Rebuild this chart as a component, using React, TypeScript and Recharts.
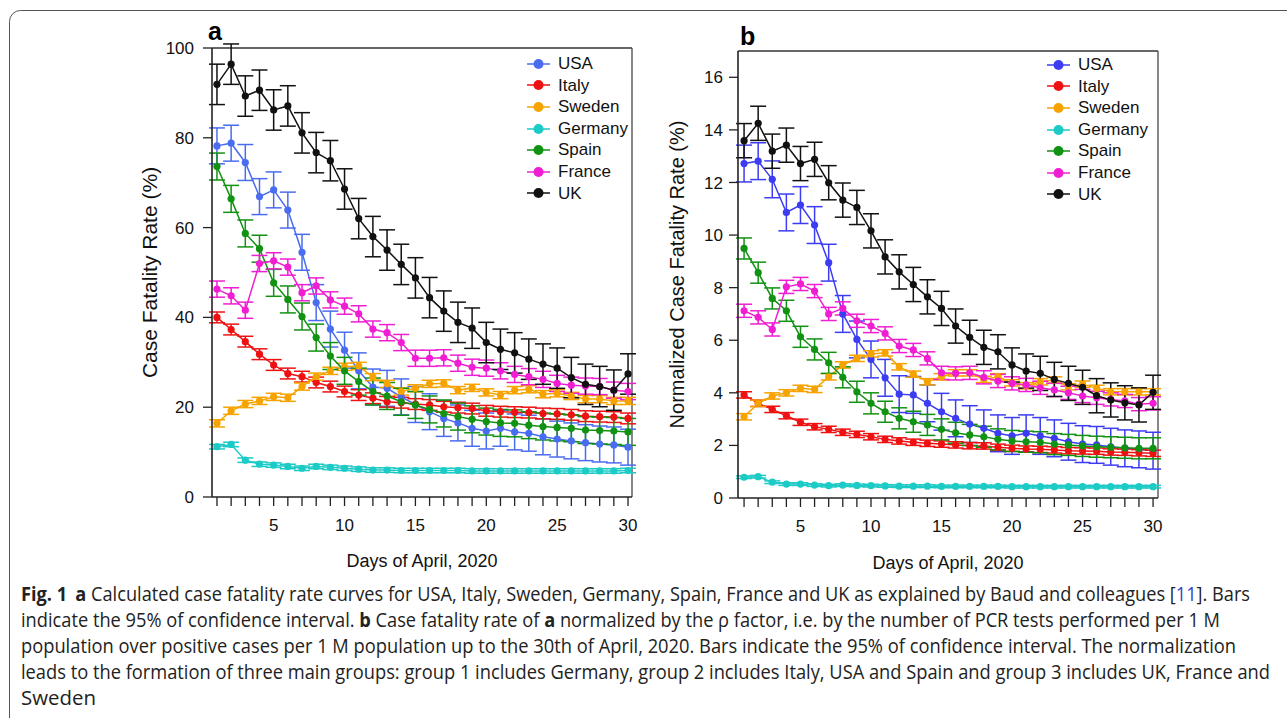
import React from "react";
import { LineChart, Line, XAxis, YAxis, ErrorBar, ReferenceLine } from "recharts";

const days = [1, 2, 3, 4, 5, 6, 7, 8, 9, 10, 11, 12, 13, 14, 15, 16, 17, 18, 19, 20, 21, 22, 23, 24, 25, 26, 27, 28, 29, 30];
const countries = ["USA", "Italy", "Sweden", "Germany", "Spain", "France", "UK"];
const colorsA = ["#4a6cf0", "#ee1111", "#f6a300", "#1ccac6", "#129212", "#f01ed2", "#111111"];
const colorsB = ["#3c3cf2", "#ee1111", "#f6a300", "#1ccac6", "#129212", "#f01ed2", "#111111"];

// panel a: case fatality rate (%)
const usaA = [78.2, 78.8, 74.5, 66.9, 68.4, 63.9, 54.5, 43.3, 37.4, 32.7, 28.1, 24.5, 24.2, 22.3, 20.6, 19.0, 17.5, 16.5, 15.3, 14.7, 15.3, 14.5, 14.2, 13.4, 12.9, 12.5, 12.1, 11.8, 11.6, 11.1];
const italyA = [40.0, 37.3, 34.6, 31.8, 29.4, 27.5, 26.8, 25.5, 24.6, 23.5, 22.7, 22.0, 21.2, 21.0, 20.7, 20.5, 20.1, 19.9, 19.7, 19.2, 19.0, 18.9, 18.8, 18.6, 18.5, 18.3, 18.0, 17.9, 17.8, 17.5];
const swedenA = [16.4, 19.2, 20.7, 21.4, 22.3, 22.1, 24.6, 26.8, 28.1, 29.0, 29.2, 26.7, 25.2, 23.5, 24.2, 25.2, 25.3, 23.8, 24.3, 23.3, 22.7, 23.8, 24.0, 22.9, 23.1, 22.5, 21.8, 21.8, 21.4, 21.4];
const germanyA = [11.2, 11.7, 8.2, 7.3, 7.1, 6.8, 6.4, 6.8, 6.6, 6.4, 6.2, 6.0, 6.0, 5.9, 5.9, 5.9, 5.9, 5.9, 5.8, 5.8, 5.8, 5.8, 5.8, 5.8, 5.8, 5.8, 5.8, 5.8, 5.8, 5.9];
const spainA = [73.6, 66.4, 58.7, 55.3, 47.7, 44.0, 40.2, 35.5, 31.4, 28.1, 25.7, 23.5, 22.5, 21.2, 20.5, 19.5, 18.6, 17.9, 17.3, 16.8, 16.5, 16.4, 16.0, 15.7, 15.5, 15.3, 14.9, 14.8, 14.7, 14.5];
const franceA = [46.3, 44.8, 41.6, 52.0, 52.6, 51.2, 45.5, 47.0, 43.9, 42.5, 40.8, 37.4, 36.6, 34.4, 30.9, 30.9, 31.0, 29.8, 28.9, 28.7, 28.1, 27.3, 26.8, 26.2, 25.3, 24.9, 24.7, 24.6, 23.8, 23.5];
const ukA = [91.9, 96.4, 89.3, 90.6, 86.2, 87.1, 81.1, 76.7, 74.9, 68.6, 62.0, 58.0, 55.0, 51.8, 48.8, 44.4, 41.4, 38.9, 37.6, 34.4, 32.9, 32.1, 30.7, 29.6, 28.7, 26.6, 25.1, 24.6, 23.8, 27.4];
const errA = [4, 1.2, 0.8, 0.5, 3, 1.8, 4.5];

// panel b: normalized case fatality rate (%)
const usaB = [12.72, 12.81, 12.12, 10.86, 11.14, 10.38, 8.95, 7.0, 6.03, 5.27, 4.57, 3.95, 3.92, 3.6, 3.28, 3.03, 2.81, 2.65, 2.46, 2.36, 2.46, 2.36, 2.27, 2.14, 2.05, 2.02, 1.95, 1.89, 1.85, 1.8];
const italyB = [3.92, 3.6, 3.37, 3.13, 2.88, 2.71, 2.61, 2.5, 2.42, 2.33, 2.23, 2.17, 2.12, 2.08, 2.05, 2.02, 1.99, 1.98, 1.93, 1.89, 1.86, 1.85, 1.83, 1.8, 1.79, 1.78, 1.75, 1.74, 1.72, 1.7];
const swedenB = [3.09, 3.6, 3.88, 4.0, 4.17, 4.13, 4.61, 5.06, 5.31, 5.48, 5.52, 4.99, 4.71, 4.42, 4.61, 4.76, 4.76, 4.51, 4.61, 4.38, 4.27, 4.42, 4.49, 4.23, 4.33, 4.17, 4.04, 4.04, 4.04, 4.04];
const germanyB = [0.79, 0.81, 0.6, 0.53, 0.53, 0.49, 0.47, 0.49, 0.48, 0.47, 0.46, 0.45, 0.45, 0.45, 0.44, 0.44, 0.44, 0.44, 0.44, 0.43, 0.43, 0.43, 0.43, 0.43, 0.43, 0.43, 0.43, 0.43, 0.43, 0.43];
const spainB = [9.49, 8.57, 7.59, 7.12, 6.13, 5.65, 5.14, 4.59, 4.04, 3.6, 3.28, 3.03, 2.9, 2.78, 2.61, 2.48, 2.4, 2.33, 2.23, 2.17, 2.14, 2.12, 2.05, 2.02, 1.98, 1.95, 1.93, 1.91, 1.89, 1.89];
const franceB = [7.12, 6.87, 6.41, 8.03, 8.14, 7.87, 7.0, 7.21, 6.74, 6.54, 6.26, 5.78, 5.63, 5.31, 4.76, 4.74, 4.76, 4.59, 4.45, 4.36, 4.3, 4.19, 4.11, 4.0, 3.88, 3.81, 3.75, 3.69, 3.57, 3.6];
const ukB = [13.59, 14.25, 13.19, 13.42, 12.72, 12.88, 11.99, 11.33, 11.05, 10.16, 9.17, 8.6, 8.12, 7.65, 7.21, 6.54, 6.11, 5.73, 5.56, 5.06, 4.83, 4.74, 4.51, 4.36, 4.21, 3.89, 3.73, 3.62, 3.54, 4.02];
const errB = [0.7, 0.12, 0.12, 0.05, 0.4, 0.25, 0.65];

const yTicksA = [0, 20, 40, 60, 80, 100];
const yTicksB = [0, 2, 4, 6, 8, 10, 12, 14, 16];

const FONT = "'Liberation Sans', Arial, sans-serif";

function buildRows(series: number[][], errs: number[]) {
  return days.map((day, i) => {
    const row: any = { day };
    countries.forEach((c, k) => {
      row[c] = series[k][i];
      row[c + "Err"] = errs[k];
    });
    return row;
  });
}

const rowsA = buildRows([usaA, italyA, swedenA, germanyA, spainA, franceA, ukA], errA);
const rowsB = buildRows([usaB, italyB, swedenB, germanyB, spainB, franceB, ukB], errB);

function LegendBox({ colors, left, top }: { colors: string[]; left: number; top: number }) {
  return (
    <div style={{ position: "absolute", left, top, fontFamily: FONT, fontSize: 17, color: "#111", lineHeight: "21.6px" }}>
      {countries.map((c, i) => (
        <div key={c} style={{ display: "flex", alignItems: "center", height: 21.6 }}>
          <svg width={24} height={14} style={{ display: "block" }}>
            <line x1={0} y1={7} x2={23} y2={7} stroke={colors[i]} strokeWidth={1.5} />
            <circle cx={11.5} cy={7} r={5} fill={colors[i]} />
          </svg>
          <span style={{ marginLeft: 7 }}>{c}</span>
        </div>
      ))}
    </div>
  );
}

function Panel(props: any) {
  const { rows, colors, yTicks, yMax, yLabel, xDomain, left, top, margin, yAxisWidth, xAxisHeight, yTickMargin, yLabelOffset, yLabelSize, xLabelOffset } = props;
  const tickStyle = { fontSize: 17, fill: "#111", fontFamily: FONT };
  return (
    <div style={{ position: "absolute", left, top }}>
      <LineChart width={530} height={560} data={rows} margin={margin} style={{ fontFamily: FONT }}>
        <XAxis
          dataKey="day"
          type="number"
          domain={xDomain}
          ticks={days}
          interval={0}
          allowDataOverflow
          tickFormatter={(d: number) => (d % 5 === 0 ? String(d) : "")}
          tickSize={9}
          tickMargin={13}
          height={xAxisHeight}
          tick={tickStyle}
          stroke="#222"
          axisLine={{ stroke: "#222", strokeWidth: 1.6 }}
          tickLine={{ stroke: "#222", strokeWidth: 1.3 }}
          label={{ value: "Days of April, 2020", position: "insideBottom", offset: xLabelOffset, fill: "#111", fontSize: 18 }}
        />
        <YAxis
          type="number"
          domain={[0, yMax]}
          ticks={yTicks}
          interval={0}
          allowDataOverflow
          width={yAxisWidth}
          tickSize={9}
          tickMargin={yTickMargin}
          tick={tickStyle}
          axisLine={{ stroke: "#222", strokeWidth: 1.6 }}
          tickLine={{ stroke: "#222", strokeWidth: 1.3 }}
          label={{ value: yLabel, angle: -90, position: "insideLeft", offset: yLabelOffset, fill: "#111", fontSize: yLabelSize, style: { textAnchor: "middle" } }}
        />
        <ReferenceLine y={yMax} stroke="#333" strokeWidth={1.6} />
        <ReferenceLine x={xDomain[1]} stroke="#555" strokeWidth={1.4} />
        {countries.map((c, i) => (
          <Line
            key={c}
            dataKey={c}
            stroke={colors[i]}
            strokeWidth={1.5}
            dot={{ r: 3.6, fill: colors[i], stroke: colors[i], strokeWidth: 0 }}
            activeDot={false}
            isAnimationActive={false}
          >
            <ErrorBar dataKey={c + "Err"} width={8} stroke={colors[i]} strokeWidth={1.5} direction="y" />
          </Line>
        ))}
      </LineChart>
    </div>
  );
}

export default function App() {
  const cap = { fontFamily: "'Open Sans', sans-serif", fontSize: 20, fill: "#222" };
  return (
    <div style={{ position: "absolute", left: 0, top: 0, width: 1287, height: 718, overflow: "hidden", background: "#fff" }}>
      <svg width={1287} height={718} style={{ position: "absolute", left: 0, top: 0 }}>
        <rect x={9.5} y={10.5} width={1320} height={740} rx={11} fill="none" stroke="#555" strokeWidth={1} />
        <text x={208} y={40} fontFamily={FONT} fontWeight="bold" fontSize={25} fill="#000">a</text>
        <text x={740} y={45} fontFamily={FONT} fontWeight="bold" fontSize={25} fill="#000">b</text>
        <text x={21} y={601} {...cap} textLength={1229} lengthAdjust="spacingAndGlyphs">
          <tspan fontWeight="bold">Fig. 1</tspan>
          <tspan fontWeight="bold" dx={9}>a</tspan>
          <tspan>{" Calculated case fatality rate curves for USA, Italy, Sweden, Germany, Spain, France and UK as explained by Baud and colleagues ["}</tspan>
          <tspan fill="#3344cc">11</tspan>
          <tspan>{"]. Bars"}</tspan>
        </text>
        <text x={21} y={627} {...cap} textLength={1199} lengthAdjust="spacingAndGlyphs">
          <tspan>{"indicate the 95% of confidence interval. "}</tspan>
          <tspan fontWeight="bold">b</tspan>
          <tspan>{" Case fatality rate of "}</tspan>
          <tspan fontWeight="bold">a</tspan>
          <tspan>{" normalized by the ρ factor, i.e. by the number of PCR tests performed per 1 M"}</tspan>
        </text>
        <text x={21} y={653} {...cap} textLength={1215} lengthAdjust="spacingAndGlyphs">
          population over positive cases per 1 M population up to the 30th of April, 2020. Bars indicate the 95% of confidence interval. The normalization
        </text>
        <text x={21} y={679} {...cap} textLength={1249} lengthAdjust="spacingAndGlyphs">
          leads to the formation of three main groups: group 1 includes Germany, group 2 includes Italy, USA and Spain and group 3 includes UK, France and
        </text>
        <text x={21} y={705} {...cap} textLength={75} lengthAdjust="spacingAndGlyphs">
          Sweden
        </text>
      </svg>
      <Panel
        rows={rowsA}
        colors={colorsA}
        yTicks={yTicksA}
        yMax={100}
        yLabel="Case Fatality Rate (%)"
        xDomain={[0.65, 30.28]}
        left={130}
        top={20}
        margin={{ top: 28, right: 28, left: 0, bottom: 0 }}
        yAxisWidth={82}
        xAxisHeight={83}
        yTickMargin={9}
        yLabelOffset={20}
        yLabelSize={21}
        xLabelOffset={13}
      />
      <Panel
        rows={rowsB}
        colors={colorsB}
        yTicks={yTicksB}
        yMax={17}
        yLabel="Normalized Case Fatality Rate (%)"
        xDomain={[0.57, 30.35]}
        left={650}
        top={20}
        margin={{ top: 31, right: 22, left: 0, bottom: 0 }}
        yAxisWidth={88}
        xAxisHeight={82}
        yTickMargin={6}
        yLabelOffset={27}
        yLabelSize={20}
        xLabelOffset={11}
      />
      <LegendBox colors={colorsA} left={527} top={53} />
      <LegendBox colors={colorsB} left={1047} top={54} />
    </div>
  );
}
